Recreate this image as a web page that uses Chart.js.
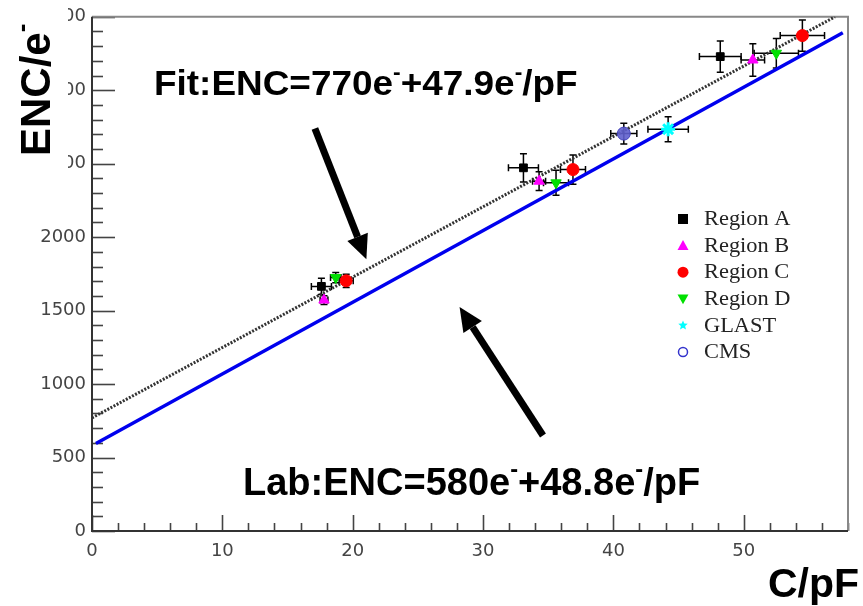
<!DOCTYPE html>
<html><head><meta charset="utf-8">
<script src="https://cdn.jsdelivr.net/npm/chart.js@4/dist/chart.umd.min.js"></script>
<style>html,body{margin:0;padding:0;background:#fff}#wrap{width:863px;height:606px;position:relative}</style>
</head><body><div id="wrap"><canvas id="c" width="863" height="606"></canvas></div>
<script>
// ---- data ----
const xTicks = [0, 10, 20, 30, 40, 50];
const yTicks = [0, 500, 1000, 1500, 2000, 2500, 3000, 3500];

const regionA_C    = [17.6, 33.1, 48.2];
const regionA_ENC  = [1665, 2472, 3229];
const regionA_Cerr = [0.77, 1.15, 1.6];
const regionA_Eerr = [55, 96, 106];

const regionB_C    = [17.8, 34.3, 50.7];
const regionB_ENC  = [1572, 2381, 3206];
const regionB_Cerr = [0.3, 0.5, 0.9];
const regionB_Eerr = [30, 64, 110];

const regionC_C    = [19.5, 36.9, 54.5];
const regionC_ENC  = [1703, 2460, 3372];
const regionC_Cerr = [0.54, 0.96, 1.7];
const regionC_Eerr = [45, 100, 106];

const regionD_C    = [18.7, 35.6, 52.5];
const regionD_ENC  = [1725, 2370, 3252];
const regionD_Cerr = [0.4, 0.96, 1.7];
const regionD_Eerr = [35, 85, 100];

const glast_C = [44.2], glast_ENC = [2735], glast_Cerr = [1.55], glast_Eerr = [85];
const cms_C   = [40.8], cms_ENC   = [2705], cms_Cerr   = [1.0],  cms_Eerr   = [70];

// fit lines (end points)
const fitLine_C   = [0, 57.0];
const fitLine_ENC = [770, 3500];
const labLine_C   = [0.3, 57.6];
const labLine_ENC = [595, 3391];

const legendLabels = ['Region A', 'Region B', 'Region C', 'Region D', 'GLAST', 'CMS'];
const fitText = [{t:'Fit:ENC=770e'},{t:'-',sup:true},{t:'+47.9e'},{t:'-',sup:true},{t:'/pF'}];
const labText = [{t:'Lab:ENC=580e'},{t:'-',sup:true},{t:'+48.8e'},{t:'-',sup:true},{t:'/pF'}];
const yTitle  = [{t:'ENC/e'},{t:'-',sup:true}];
const xTitle  = 'C/pF';
// arrows in data coordinates: [tailC, tailENC, tipC, tipENC]
const arrows = [[17.1, 2740, 21.05, 1850], [34.6, 650, 28.2, 1525]];

// ---- helpers ----
const pts = (xs, ys) => xs.map((x, i) => ({x, y: ys[i]}));

function drawRich(ctx, parts, x, y, size, family, sx) {
  ctx.save();
  ctx.translate(x, y);
  ctx.scale(sx || 1, 1);
  let cx = 0;
  for (const p of parts) {
    const fs = p.sup ? size * 0.62 : size;
    ctx.font = 'bold ' + fs + 'px ' + family;
    ctx.fillText(p.t, cx, p.sup ? -size * 0.47 : 0);
    cx += ctx.measureText(p.t).width;
  }
  ctx.restore();
}

function drawMarker(ctx, style, x, y, r, fill, stroke) {
  ctx.save();
  ctx.fillStyle = fill; ctx.strokeStyle = stroke; ctx.lineWidth = 1.5;
  ctx.beginPath();
  if (style === 'rect') { ctx.rect(x - r, y - r, 2 * r, 2 * r); ctx.fill(); }
  else if (style === 'tri') { ctx.moveTo(x, y - r); ctx.lineTo(x + r, y + r * 0.8); ctx.lineTo(x - r, y + r * 0.8); ctx.closePath(); ctx.fill(); }
  else if (style === 'tridown') { ctx.moveTo(x, y + r); ctx.lineTo(x + r, y - r * 0.8); ctx.lineTo(x - r, y - r * 0.8); ctx.closePath(); ctx.fill(); }
  else if (style === 'circle') { ctx.arc(x, y, r, 0, Math.PI * 2); ctx.fill(); }
  else if (style === 'ocircle') { ctx.arc(x, y, r, 0, Math.PI * 2); ctx.stroke(); }
  else if (style === 'star') {
    for (let i = 0; i < 10; i++) {
      const a = -Math.PI / 2 + i * Math.PI / 5, rr = i % 2 ? r * 0.45 : r;
      const px = x + rr * Math.cos(a), py = y + rr * Math.sin(a);
      i ? ctx.lineTo(px, py) : ctx.moveTo(px, py);
    }
    ctx.closePath(); ctx.fill();
  }
  ctx.restore();
}

const legendStyles = [
  ['rect', '#000', '#000', 5],
  ['tri', '#ff00ff', '#ff00ff', 5.5],
  ['circle', '#ff0000', '#ff0000', 5.5],
  ['tridown', '#00e000', '#00e000', 5.5],
  ['star', '#00ffff', '#00ffff', 5],
  ['ocircle', '#fff', '#3333cc', 4.5]
];

// ---- plugins ----
const framePlugin = {
  id: 'frame',
  beforeDatasetsDraw(chart) {
    const {ctx, chartArea: a, scales: {x, y}} = chart;
    ctx.save();
    // ticks (inward)
    ctx.strokeStyle = '#444'; ctx.lineWidth = 1.6;
    for (let v = 0; v <= 58; v += 2) {
      const px = Math.round(x.getPixelForValue(v)) + 0.5;
      const len = v % 10 === 0 ? 16 : 8;
      ctx.beginPath(); ctx.moveTo(px, a.bottom); ctx.lineTo(px, a.bottom - len); ctx.stroke();
    }
    for (let v = 0; v <= 3500; v += 100) {
      const py = Math.round(y.getPixelForValue(v)) + 0.5;
      const len = v % 500 === 0 ? 23 : 11;
      ctx.beginPath(); ctx.moveTo(a.left, py); ctx.lineTo(a.left + len, py); ctx.stroke();
    }
    // frame
    ctx.lineWidth = 2;
    ctx.strokeStyle = '#888';
    ctx.beginPath(); ctx.moveTo(a.left, a.top); ctx.lineTo(a.right, a.top); ctx.lineTo(a.right, a.bottom); ctx.stroke();
    ctx.strokeStyle = '#333';
    ctx.beginPath(); ctx.moveTo(a.left, a.top); ctx.lineTo(a.left, a.bottom); ctx.lineTo(a.right, a.bottom); ctx.stroke();
    // error bars
    ctx.strokeStyle = '#000'; ctx.lineWidth = 1.5;
    chart.data.datasets.forEach(ds => {
      if (!ds.xErr) return;
      ds.data.forEach((p, i) => {
        const cx = x.getPixelForValue(p.x), cy = y.getPixelForValue(p.y);
        const x1 = x.getPixelForValue(p.x - ds.xErr[i]), x2 = x.getPixelForValue(p.x + ds.xErr[i]);
        const y1 = y.getPixelForValue(p.y - ds.yErr[i]), y2 = y.getPixelForValue(p.y + ds.yErr[i]);
        ctx.beginPath();
        ctx.moveTo(x1, cy); ctx.lineTo(x2, cy);
        ctx.moveTo(cx, y1); ctx.lineTo(cx, y2);
        ctx.moveTo(x1, cy - 3.5); ctx.lineTo(x1, cy + 3.5);
        ctx.moveTo(x2, cy - 3.5); ctx.lineTo(x2, cy + 3.5);
        ctx.moveTo(cx - 3.5, y1); ctx.lineTo(cx + 3.5, y1);
        ctx.moveTo(cx - 3.5, y2); ctx.lineTo(cx + 3.5, y2);
        ctx.stroke();
      });
    });
    ctx.restore();
  },
  afterDraw(chart) {
    const {ctx, scales: {x, y}} = chart;
    ctx.save();
    // arrows
    ctx.fillStyle = '#000'; ctx.strokeStyle = '#000'; ctx.lineWidth = 7;
    arrows.forEach(([c0, e0, c1, e1]) => {
      const x0 = x.getPixelForValue(c0), y0 = y.getPixelForValue(e0);
      const x1 = x.getPixelForValue(c1), y1 = y.getPixelForValue(e1);
      const ang = Math.atan2(y1 - y0, x1 - x0), hl = 24, hw = 11;
      const bx = x1 - hl * Math.cos(ang), by = y1 - hl * Math.sin(ang);
      ctx.beginPath(); ctx.moveTo(x0, y0); ctx.lineTo(bx, by); ctx.stroke();
      ctx.beginPath(); ctx.moveTo(x1, y1);
      ctx.lineTo(bx + hw * Math.sin(ang), by - hw * Math.cos(ang));
      ctx.lineTo(bx - hw * Math.sin(ang), by + hw * Math.cos(ang));
      ctx.closePath(); ctx.fill();
    });
    // legend
    legendLabels.forEach((lab, i) => {
      const ly = 219 + i * 26.6;
      const s = legendStyles[i];
      drawMarker(ctx, s[0], 683, ly, s[3], s[1], s[2]);
      ctx.save();
      ctx.fillStyle = '#222';
      ctx.font = '20px "Liberation Serif"';
      ctx.textBaseline = 'middle';
      ctx.translate(704, ly + 1); ctx.scale(1.12, 1);
      ctx.fillText(lab, 0, 0);
      ctx.restore();
    });
    // annotation texts
    ctx.fillStyle = '#000';
    ctx.textBaseline = 'alphabetic';
    drawRich(ctx, fitText, 154, 95, 35, '"Liberation Sans", Arial', 1.055);
    drawRich(ctx, labText, 243, 495, 38, '"Liberation Sans", Arial', 1);
    // y title with white box
    ctx.fillStyle = '#fff'; ctx.fillRect(0, 0, 68, 175);
    ctx.fillStyle = '#000';
    ctx.save(); ctx.translate(50, 156); ctx.rotate(-Math.PI / 2);
    drawRich(ctx, yTitle, 0, 0, 42, '"Liberation Sans", Arial', 1);
    ctx.restore();
    // x title with white box
    ctx.fillStyle = '#fff'; ctx.fillRect(752, 558, 111, 48);
    ctx.fillStyle = '#000';
    ctx.font = 'bold 41px "Liberation Sans", Arial';
    ctx.fillText(xTitle, 768, 597);
    ctx.restore();
  }
};

const errDs = (label, xs, ys, xe, ye, style, color, radius, extra) => Object.assign({
  type: 'scatter', label, data: pts(xs, ys), xErr: xe, yErr: ye,
  pointStyle: style, pointRadius: radius, backgroundColor: color, borderColor: color, borderWidth: 1, order: 1
}, extra || {});

new Chart(document.getElementById('c'), {
  type: 'scatter',
  data: {
    datasets: [
      {type: 'line', label: 'Lab', data: pts(labLine_C, labLine_ENC), borderColor: '#0000ee', borderWidth: 3.5, pointRadius: 0, fill: false, order: 3},
      {type: 'line', label: 'Fit', data: pts(fitLine_C, fitLine_ENC), borderColor: '#333', borderWidth: 3, borderDash: [2, 1.5], pointRadius: 0, fill: false, order: 2},
      errDs('Region A', regionA_C, regionA_ENC, regionA_Cerr, regionA_Eerr, 'rect', '#000', 5.5),
      errDs('Region B', regionB_C, regionB_ENC, regionB_Cerr, regionB_Eerr, 'triangle', '#ff00ff', 6),
      errDs('Region C', regionC_C, regionC_ENC, regionC_Cerr, regionC_Eerr, 'circle', '#ff0000', 6),
      errDs('Region D', regionD_C, regionD_ENC, regionD_Cerr, regionD_Eerr, 'triangle', '#00e000', 6, {rotation: 180}),
      errDs('GLAST', glast_C, glast_ENC, glast_Cerr, glast_Eerr, 'star', '#00ffff', 7, {borderWidth: 3}),
      errDs('CMS', cms_C, cms_ENC, cms_Cerr, cms_Eerr, 'circle', 'rgba(95,95,205,0.9)', 6.5, {borderColor: '#4444bb'})
    ]
  },
  options: {
    responsive: false, animation: false, devicePixelRatio: 1,
    layout: {padding: {top: 15, right: 15, left: 0, bottom: 0}},
    plugins: {legend: {display: false}, tooltip: {enabled: false}},
    scales: {
      x: {
        type: 'linear', min: 0, max: 58,
        grid: {display: false, drawTicks: false}, border: {display: false},
        ticks: {font: {family: '"DejaVu Sans"', size: 18}, color: '#444', padding: 10, maxRotation: 0, autoSkip: false, includeBounds: false, callback: v => String(v)},
        afterBuildTicks: s => { s.ticks = xTicks.map(v => ({value: v})); },
        afterFit: s => { s.height = 75; }
      },
      y: {
        type: 'linear', min: 0, max: 3500,
        grid: {display: false, drawTicks: false}, border: {display: false},
        ticks: {font: {family: '"DejaVu Sans"', size: 18}, color: '#444', padding: 6, autoSkip: false, includeBounds: false, callback: v => String(v)},
        afterBuildTicks: s => { s.ticks = yTicks.map(v => ({value: v})); },
        afterFit: s => { s.width = 92; }
      }
    }
  },
  plugins: [framePlugin]
});
</script>
</body></html>
